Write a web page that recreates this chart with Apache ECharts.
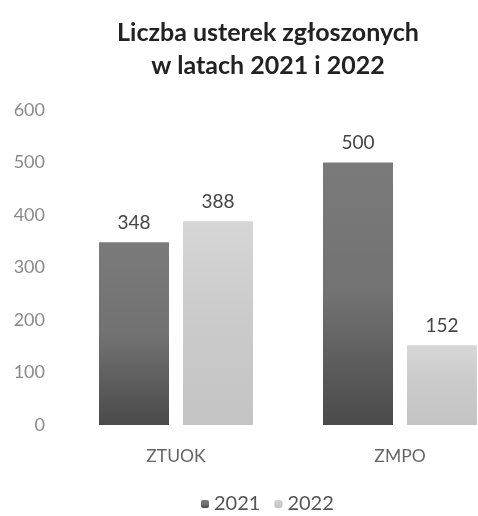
<!DOCTYPE html>
<html><head><meta charset="utf-8">
<script src="https://cdn.jsdelivr.net/npm/echarts@6/dist/echarts.min.js"></script>
<style>html,body{margin:0;padding:0;background:#fff;overflow:hidden;width:478px;height:516px}#c{width:520px;height:516px}</style>
</head><body><div id="c"></div>
<script>
const categories = ['ZTUOK', 'ZMPO'];
const values2021 = [348, 500];
const values2022 = [388, 152];
const yTicks = [0, 100, 200, 300, 400, 500, 600];
const seriesNames = ['2021', '2022'];
const titleText = 'Liczba usterek zgłoszonych\nw latach 2021 i 2022';

const FONT = 'Lato';
const chart = echarts.init(document.getElementById('c'));
const grad = (a, b, c) => new echarts.graphic.LinearGradient(0, 0, 0, 1, [
  {offset: 0, color: a}, {offset: 0.5, color: b}, {offset: 1, color: c}]);
chart.setOption({
  backgroundColor: '#fff',
  animation: false,
  title: {
    text: titleText, left: 263, textAlign: 'center', top: 11,
    textStyle: {fontFamily: FONT, fontWeight: 'bold', fontSize: 25, color: '#222', lineHeight: 33}
  },
  legend: {
    data: seriesNames, left: 196, top: 489, itemWidth: 8, itemHeight: 8, itemGap: 14,
    textStyle: {fontFamily: FONT, fontSize: 20, color: '#555', padding: [0, 0, 0, 0]}
  },
  grid: {left: 64, width: 448, top: 110, bottom: 91, containLabel: false},
  xAxis: {
    type: 'category', data: categories,
    axisLine: {show: false}, axisTick: {show: false},
    axisLabel: {fontFamily: FONT, fontSize: 17.5, color: '#666', margin: 22}
  },
  yAxis: {
    type: 'value', min: yTicks[0], max: yTicks[yTicks.length - 1], interval: 100,
    splitLine: {show: false}, axisLine: {show: false}, axisTick: {show: false},
    axisLabel: {fontFamily: FONT, fontSize: 18, color: '#8a8a8a', margin: 19}
  },
  series: [
    {
      name: seriesNames[0], type: 'bar', data: values2021, barWidth: 70, barGap: '20%',
      itemStyle: {color: grad('#7a7a7a', '#727272', '#4a4a4a')},
      label: {show: true, position: 'top', distance: 10, fontFamily: FONT, fontSize: 19, color: '#444'}
    },
    {
      name: seriesNames[1], type: 'bar', data: values2022, barWidth: 70,
      itemStyle: {color: grad('#d6d6d6', '#cacaca', '#c4c4c4')},
      label: {show: true, position: 'top', distance: 10, fontFamily: FONT, fontSize: 19, color: '#444'}
    }
  ]
});
</script></body></html>
